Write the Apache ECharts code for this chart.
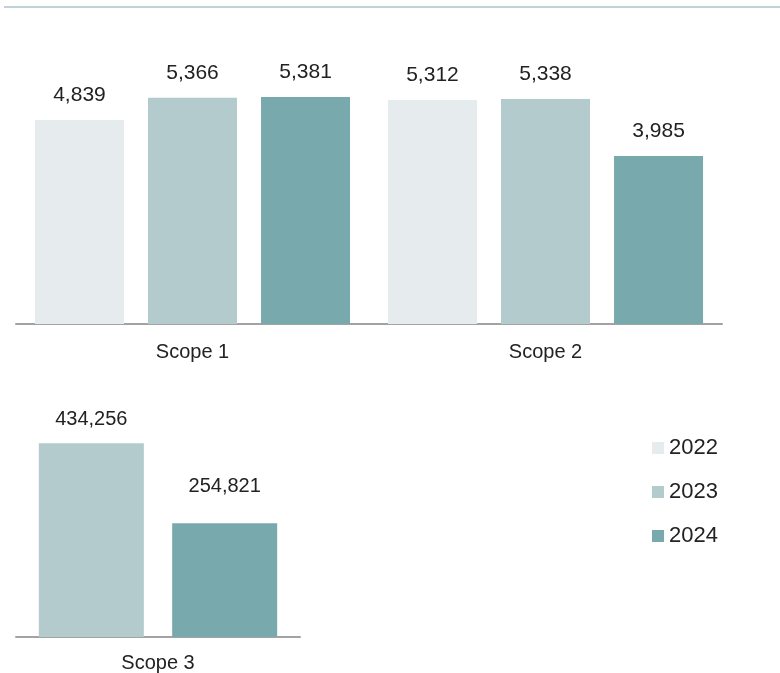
<!DOCTYPE html>
<html><head><meta charset="utf-8">
<script src="https://cdn.jsdelivr.net/npm/echarts@6/dist/echarts.min.js"></script>
<style>html,body{margin:0;padding:0;background:#fff}#c{width:780px;height:673px}</style>
</head><body><div id="c"></div>
<script>
var years = ['2022', '2023', '2024'];
var topCategories = ['Scope 1', 'Scope 2'];
var top2022 = [4839, 5312];
var top2023 = [5366, 5338];
var top2024 = [5381, 3985];
var bottomCategories = ['Scope 3'];
var bottom2023 = [434256];
var bottom2024 = [254821];
var colors = {'2022': '#e6ebee', '2023': '#b4cbcd', '2024': '#78a9ad'};

var font = '"Liberation Sans", Arial, sans-serif';
var chart = echarts.init(document.getElementById('c'), null, {renderer: 'canvas'});
function fmt(p){ return p.value.toLocaleString('en-US'); }
function bar(name, data, xi, bw, gap, fs, dist){
  return {
    name: name, type: 'bar', xAxisIndex: xi, yAxisIndex: xi, data: data,
    barWidth: bw, barGap: gap,
    itemStyle: {color: colors[name]},
    label: {show: true, position: 'top', distance: dist, formatter: fmt,
      color: '#222', fontSize: fs, fontFamily: font},
    emphasis: {disabled: true}
  };
}
chart.setOption({
  animation: false,
  graphic: [{type: 'line', shape: {x1: 4, y1: 7, x2: 780, y2: 7},
    style: {stroke: '#a7c3cc', lineWidth: 1.5}}],
  legend: {
    orient: 'vertical', left: 652, top: 437, padding: 0, itemWidth: 12, itemHeight: 12, itemGap: 22,
    icon: 'rect', data: years, selectedMode: false,
    textStyle: {color: '#222', fontSize: 22, fontFamily: font}
  },
  grid: [
    {left: 16, width: 706, top: 71, height: 253, containLabel: false},
    {left: 16, width: 284, top: 414, height: 226, containLabel: false}
  ],
  xAxis: [
    {gridIndex: 0, type: 'category', data: topCategories,
      axisLine: {lineStyle: {color: '#a3a3a3', width: 2}}, axisTick: {show: false},
      axisLabel: {color: '#222', fontSize: 20, fontFamily: font, margin: 18}},
    {gridIndex: 1, type: 'category', data: bottomCategories,
      axisLine: {lineStyle: {color: '#a3a3a3', width: 2}}, axisTick: {show: false},
      axisLabel: {color: '#222', fontSize: 20, fontFamily: font, margin: 16}}
  ],
  yAxis: [
    {gridIndex: 0, type: 'value', min: 0, max: 6000, show: false, splitLine: {show: false}},
    {gridIndex: 1, type: 'value', min: 0, max: 500000, show: false, splitLine: {show: false}}
  ],
  series: [
    bar('2022', top2022, 0, 89, '27%', 21, 14),
    bar('2023', top2023, 0, 89, '27%', 21, 14),
    bar('2024', top2024, 0, 89, '27%', 21, 14),
    bar('2023', bottom2023, 1, 105, '27%', 20, 14),
    bar('2024', bottom2024, 1, 105, '27%', 20, 27)
  ]
});
</script></body></html>
